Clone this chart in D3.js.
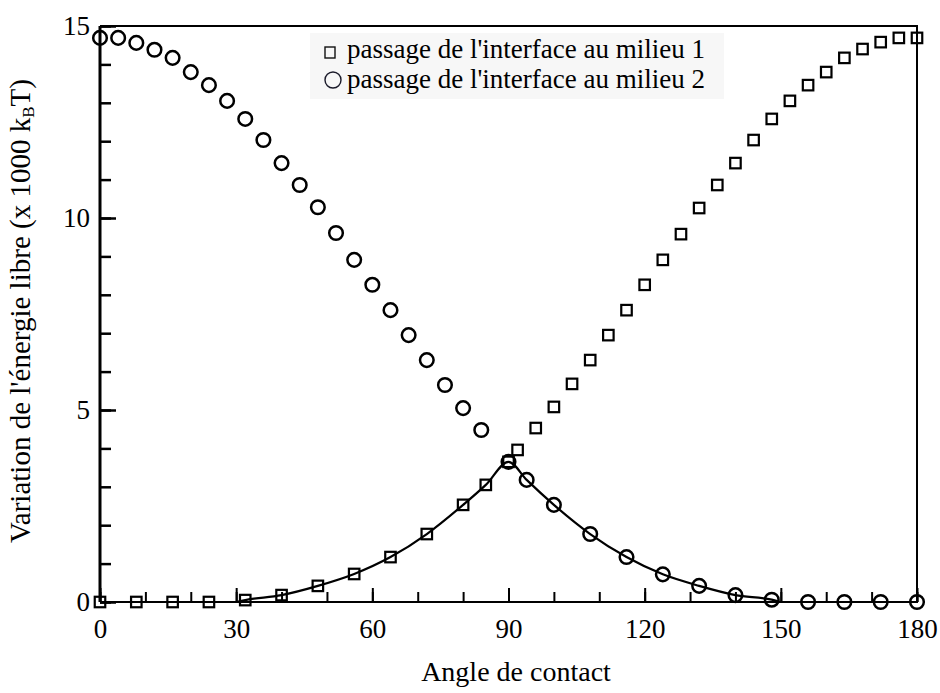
<!DOCTYPE html>
<html>
<head>
<meta charset="utf-8">
<script src="https://cdn.jsdelivr.net/npm/d3@7/dist/d3.min.js"></script>
<style>
	body { margin: 0; background: #fff; }
	svg { display: block; }
	svg text, svg tspan { font-family: 'Liberation Serif', 'Times New Roman', serif !important; fill: #000; }
</style>
</head>
<body>
<div id="chart"></div>
<script>
// series 1 : passage de l'interface au milieu 1 (squares)
const squareAngles = [0, 8, 16, 24, 32, 40, 48, 56, 64, 72, 80, 85, 90,
	92, 96, 100, 104, 108, 112, 116, 120, 124, 128, 132, 136, 140, 144, 148, 152, 156, 160, 164, 168, 172, 176, 180]
const squareValues = [0, 0, 0, 0, 0.05, 0.18, 0.42, 0.73, 1.17, 1.77, 2.53, 3.05, 3.65,
	3.96, 4.53, 5.08, 5.68, 6.30, 6.95, 7.60, 8.26, 8.91, 9.58, 10.26, 10.86, 11.43, 12.03, 12.58, 13.05, 13.46, 13.80, 14.17, 14.40, 14.58, 14.69, 14.69]

// series 2 : passage de l'interface au milieu 2 (circles)
const circleAngles = [0, 4, 8, 12, 16, 20, 24, 28, 32, 36, 40, 44, 48, 52, 56, 60, 64, 68, 72, 76, 80, 84,
	90, 94, 100, 108, 116, 124, 132, 140, 148, 156, 164, 172, 180]
const circleValues = [14.69, 14.69, 14.56, 14.38, 14.17, 13.80, 13.46, 13.05, 12.58, 12.03, 11.43, 10.86, 10.28, 9.61, 8.91, 8.26, 7.60, 6.95, 6.30, 5.65, 5.05, 4.48,
	3.65, 3.18, 2.53, 1.77, 1.17, 0.72, 0.42, 0.18, 0.06, 0, 0, 0, 0]

// solid curve (lower envelope)
const fitAngles = [30, 32, 40, 48, 56, 64, 72, 80, 85, 90, 94, 100, 108, 116, 124, 132, 140, 148, 150]
const fitValues = [0, 0.05, 0.18, 0.42, 0.73, 1.17, 1.77, 2.53, 3.05, 3.65, 3.18, 2.53, 1.77, 1.17, 0.72, 0.42, 0.18, 0.06, 0]

const xTicks = [0, 30, 60, 90, 120, 150, 180]
const xMinorTicks = [0, 10, 20, 30, 40, 50, 60, 70, 80, 90, 100, 110, 120, 130, 140, 150, 160, 170, 180]
const yTicks = [0, 5, 10, 15]
const yMinorTicks = [0, 1, 2, 3, 4, 5, 6, 7, 8, 9, 10, 11, 12, 13, 14, 15]
const legendLabels = ["passage de l'interface au milieu 1", "passage de l'interface au milieu 2"]

var serif = "'Liberation Serif', 'Times New Roman', serif"
var width = 940
var height = 693
var margin = {top: 26, right: 23, bottom: 91, left: 100}

var x = d3.scaleLinear().domain([0, 180]).range([margin.left, width - margin.right])
var y = d3.scaleLinear().domain([0, 15]).range([height - margin.bottom, margin.top])

var svg = d3.select('#chart')
	.append('svg')
	.attr('width', width)
	.attr('height', height)
	.attr('font-family', serif)

svg.append('rect')
	.attr('width', width)
	.attr('height', height)
	.attr('fill', '#fff')

// legend background (faint)
svg.append('rect')
	.attr('x', 310)
	.attr('y', 33)
	.attr('width', 414)
	.attr('height', 66)
	.attr('fill', '#f7f7f7')

// x axis : minor then major ticks, pointing inward
svg.append('g')
	.attr('transform', `translate(0,${y(0)})`)
	.call(d3.axisBottom(x).tickValues(xMinorTicks).tickSize(-10).tickFormat(''))
	.call(g => g.select('.domain').remove())
	.call(g => g.selectAll('line').attr('stroke-width', 2))

svg.append('g')
	.attr('transform', `translate(0,${y(0)})`)
	.attr('font-family', serif)
	.call(d3.axisBottom(x).tickValues(xTicks).tickSize(-14).tickPadding(17).tickFormat(d3.format('d')))
	.attr('font-family', serif)
	.call(g => g.select('.domain').remove())
	.call(g => g.selectAll('line').attr('stroke-width', 2))
	.call(g => g.selectAll('text').style('font-size', '27px').style('font-family', serif))

// y axis
svg.append('g')
	.attr('transform', `translate(${x(0)},0)`)
	.call(d3.axisLeft(y).tickValues(yMinorTicks).tickSize(-11).tickFormat(''))
	.call(g => g.select('.domain').remove())
	.call(g => g.selectAll('line').attr('stroke-width', 2.5))

svg.append('g')
	.attr('transform', `translate(${x(0)},0)`)
	.call(d3.axisLeft(y).tickValues(yTicks).tickSize(-16).tickPadding(10).tickFormat(d3.format('d')))
	.attr('font-family', serif)
	.call(g => g.select('.domain').remove())
	.call(g => g.selectAll('line').attr('stroke-width', 2.5))
	.call(g => g.selectAll('text').style('font-size', '27px').style('font-family', serif))

// frame
svg.append('path')
	.attr('d', `M${x(0)},${y(15)}H${x(180)}V${y(0)}H${x(0)}`)
	.attr('fill', 'none')
	.attr('stroke', '#000')
	.attr('stroke-width', 2)
svg.append('line')
	.attr('x1', x(0)).attr('x2', x(0))
	.attr('y1', y(15)).attr('y2', y(0))
	.attr('stroke', '#000')
	.attr('stroke-width', 3)

// axis titles
svg.append('text')
	.attr('x', 516)
	.attr('y', 681)
	.attr('text-anchor', 'middle')
	.style('font-family', serif)
	.style('font-size', '28px')
	.text('Angle de contact')

var ylab = svg.append('text')
	.attr('transform', 'translate(30,311) rotate(-90)')
	.attr('text-anchor', 'middle')
	.style('font-family', serif)
	.style('font-size', '29px')
ylab.append('tspan').text("Variation de l'énergie libre (x 1000 k")
ylab.append('tspan').attr('dy', 4).style('font-size', '17px').text('B')
ylab.append('tspan').attr('dy', -4).text('T)')

// solid curve
var line = d3.line()
	.x(d => x(d[0]))
	.y(d => y(d[1]))
	.curve(d3.curveMonotoneX)

svg.append('path')
	.datum(d3.zip(fitAngles, fitValues))
	.attr('d', line)
	.attr('fill', 'none')
	.attr('stroke', '#000')
	.attr('stroke-width', 2.2)

// squares
var sq = 10.5
svg.append('g')
	.selectAll('rect')
	.data(d3.zip(squareAngles, squareValues))
	.enter()
	.append('rect')
	.attr('x', d => x(d[0]) - sq / 2)
	.attr('y', d => y(d[1]) - sq / 2)
	.attr('width', sq)
	.attr('height', sq)
	.attr('fill', 'none')
	.attr('stroke', '#000')
	.attr('stroke-width', 2.2)

// circles
svg.append('g')
	.selectAll('circle')
	.data(d3.zip(circleAngles, circleValues))
	.enter()
	.append('circle')
	.attr('cx', d => x(d[0]))
	.attr('cy', d => y(d[1]))
	.attr('r', 6.8)
	.attr('fill', 'none')
	.attr('stroke', '#000')
	.attr('stroke-width', 2.5)

// legend
var legend = svg.append('g')
legend.append('rect')
	.attr('x', 325)
	.attr('y', 47)
	.attr('width', 10)
	.attr('height', 11)
	.attr('fill', 'none')
	.attr('stroke', '#111')
	.attr('stroke-width', 1.4)
legend.append('circle')
	.attr('cx', 333)
	.attr('cy', 80)
	.attr('r', 8)
	.attr('fill', 'none')
	.attr('stroke', '#1a1a2a')
	.attr('stroke-width', 1.4)
legend.selectAll('text.leg')
	.data(legendLabels)
	.enter()
	.append('text')
	.attr('class', 'leg')
	.attr('x', 347)
	.attr('y', (d, i) => 58 + i * 30)
	.style('font-family', serif)
	.style('font-size', '27px')
	.text(d => d)
</script>
</body>
</html>
